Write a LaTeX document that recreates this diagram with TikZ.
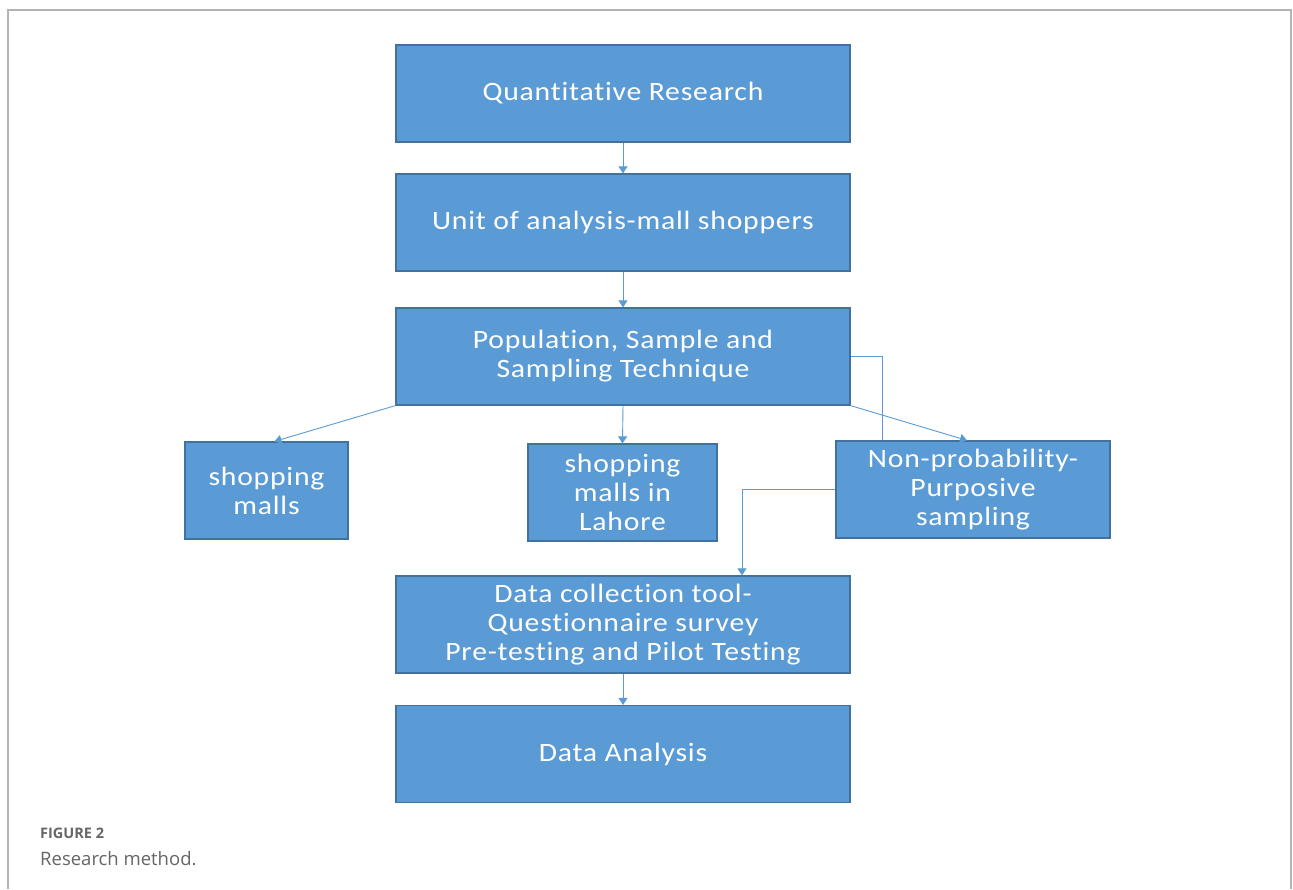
\documentclass[tikz,border=0pt]{standalone}
\usepackage{fontspec}
\setmainfont{Carlito}[FakeStretch=1.12, LetterSpace=3, RawFeature={-liga;-dlig}]
\newfontfamily\capfont{Open Sans}
\usetikzlibrary{arrows.meta,positioning,calc}
\definecolor{boxfill}{HTML}{5B9BD5}
\definecolor{boxline}{HTML}{41719C}
\definecolor{conn}{HTML}{5B9BD5}
\definecolor{frame}{HTML}{B4B4B4}
\definecolor{captxt}{HTML}{666666}
\tikzset{
  box/.style={draw=boxline, line width=1.2pt, fill=boxfill, text=white, inner sep=0pt,
    minimum height=97pt, align=center,
    font=\fontsize{26.5}{29}\selectfont},
  wide/.style={box, minimum width=454pt},
  link/.style={draw=conn, line width=0.9pt},
  arr/.style={link, -{Triangle[width=9pt,length=7pt]}},
}
\begin{document}
\begin{tikzpicture}[x=1pt,y=-1pt]
\useasboundingbox (0,0) rectangle (1293,889);
\fill[white] (0,0) rectangle (1293,889);
\draw[frame, line width=1.2pt] (8,889) -- (8,10) -- (1291,10) -- (1291,889);

\node[wide] (q) at (623,93.5) {Quantitative Research};
\node[wide] (u) at (623,222.5) {Unit of analysis-mall shoppers};
\node[wide] (p) at (623,356.5) {Population, Sample and\\Sampling Technique};
\node[box, minimum width=163pt] (sm) at (266.5,490.5) {shopping\\malls};
\node[box, minimum width=189pt] (lh) at (622.5,492.5) {shopping\\malls in\\Lahore};
\node[box, minimum width=274pt] (np) at (973,489.5) {Non-probability-\\Purposive\\sampling};
\node[wide] (dc) at (623,624.5) {Data collection tool-\\Questionnaire survey\\Pre-testing and Pilot Testing};
\node[wide] (da) at (623,754) {Data Analysis};

\coordinate (smtip) at ([xshift=8pt]sm.north);
\coordinate (nptip) at ([xshift=-6pt]np.north);
\coordinate (npbend) at ([xshift=-91pt]np.north);
\coordinate (dctip) at ([xshift=119pt]dc.north);

\draw[arr] (q.south) -- (u.north);
\draw[arr] (u.south) -- (p.north);
\draw[arr] (p.south) -- (lh.north);
\draw[arr] (p.south west) -- (smtip);
\draw[arr] (p.south east) -- (nptip);
\draw[link] (p.east) -| (npbend);
\draw[arr] (np.west) -| (dctip);
\draw[arr] (dc.south) -- (da.north);

\node[anchor=base west, inner sep=0pt, text=captxt, font=\capfont\bfseries\fontsize{14.5}{16}\selectfont] (fig) at (40,838) {FIGURE 2};
\node[anchor=base west, inner sep=0pt, text=captxt, font=\capfont\fontsize{18.5}{22}\selectfont] (cap) at (40,865) {Research method.};
\end{tikzpicture}
\end{document}
